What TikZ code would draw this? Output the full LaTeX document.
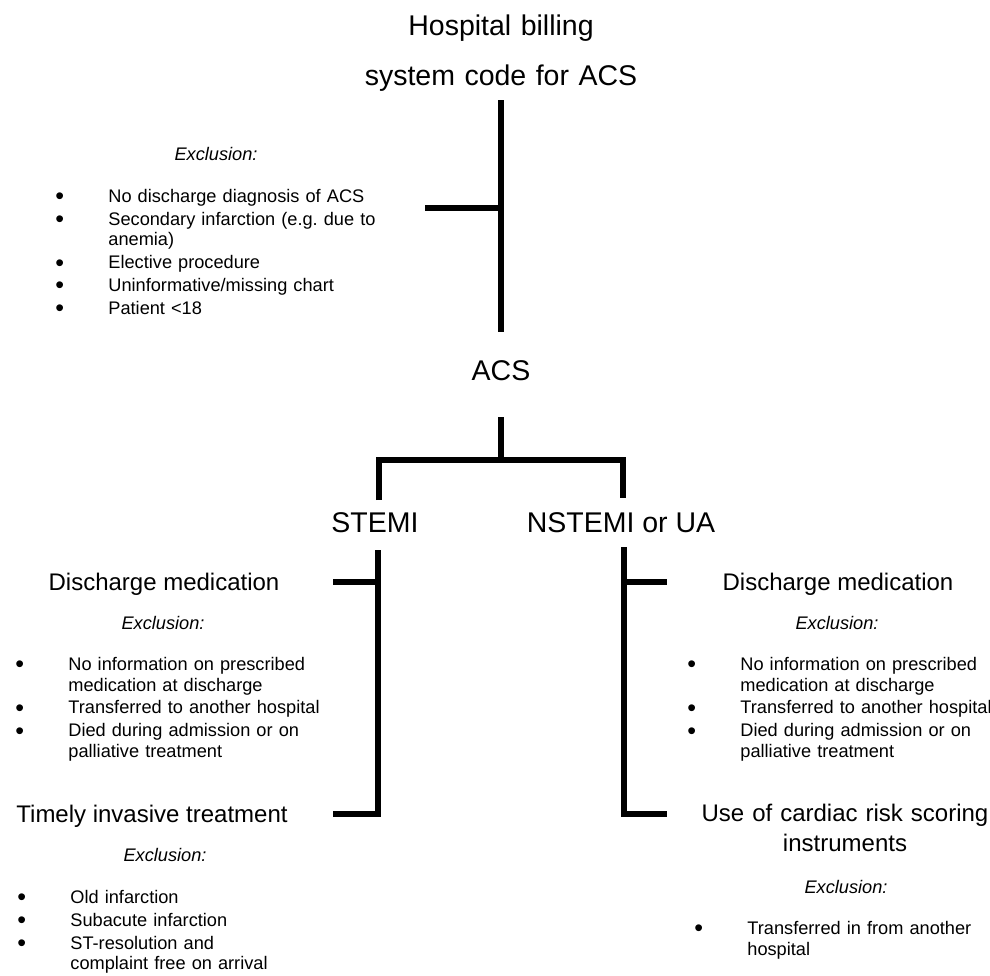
\documentclass[tikz,border=0pt]{standalone}
\usepackage{fontspec}
\setmainfont{Liberation Sans}
\frenchspacing
\newcommand{\bigbul}{\smash{\raisebox{-1.1pt}{\fontsize{12.5}{10}\selectfont\textbullet}}}
\newenvironment{exitems}{\begin{list}{\bigbul}{\setlength{\leftmargin}{26.5pt}\setlength{\labelsep}{0pt}\setlength{\labelwidth}{26.5pt}\setlength{\topsep}{0pt}\setlength{\partopsep}{0pt}\setlength{\parsep}{0pt}\setlength{\itemsep}{1.2pt}\renewcommand{\makelabel}[1]{##1\hfil}}}{\end{list}}
\tikzset{
  conn/.style={line width=3pt},
  big/.style={font=\fontsize{14.25}{25}\selectfont, anchor=base, inner sep=0pt},
  mid/.style={font=\fontsize{12}{15}\selectfont, anchor=base, inner sep=0pt},
  excl/.style={font=\fontsize{9.1}{10.25}\selectfont\itshape, anchor=base, inner sep=0pt},
  exlist/.style={font=\fontsize{9.1}{10.25}\selectfont, anchor=base west, text width=200pt, align=left, inner sep=0pt}
}
\begin{document}
\begin{tikzpicture}[x=0.5pt,y=-0.5pt]
\useasboundingbox (0,0) rectangle (990,975);

\node[big, text width=200pt, align=center] (billing) at (501,35) {Hospital billing\\system code for ACS};
\node[excl] (ex0) at (216,160) {Exclusion:};
\node[exlist] (list0) at (55,182) {\begin{exitems}
  \item No discharge diagnosis of ACS
  \item Secondary infarction (e.g. due to\newline anemia)
  \item Elective procedure
  \item Uninformative/missing chart
  \item Patient <18
\end{exitems}};
\node[big] (acs) at (501,380) {ACS};
\node[big] (stemi) at (375,532) {STEMI};
\node[big] (nstemi) at (621,532) {NSTEMI or UA};

\node[mid] (dml) at (164,590) {Discharge medication};
\node[excl] (ex1) at (163,629) {Exclusion:};
\node[exlist] (list1) at (15,650) {\begin{exitems}
  \item No information on prescribed\newline medication at discharge
  \item Transferred to another hospital
  \item Died during admission or on\newline palliative treatment
\end{exitems}};
\node[mid] (dmr) at (838,590) {Discharge medication};
\node[excl] (ex2) at (837,629) {Exclusion:};
\node[exlist] (list2) at (687,650) {\begin{exitems}
  \item No information on prescribed\newline medication at discharge
  \item Transferred to another hospital
  \item Died during admission or on\newline palliative treatment
\end{exitems}};

\node[mid] (timely) at (152,822) {Timely invasive treatment};
\node[excl] (ex3) at (165,861) {Exclusion:};
\node[exlist] (list3) at (17,883) {\begin{exitems}
  \item Old infarction
  \item Subacute infarction
  \item ST-resolution and\newline complaint free on arrival
\end{exitems}};
\node[mid, text width=160pt, align=center] (score) at (845,821) {Use of cardiac risk scoring\\instruments};
\node[excl] (ex4) at (846,893) {Exclusion:};
\node[exlist] (list4) at (694,914) {\begin{exitems}
  \item Transferred in from another\newline hospital
\end{exitems}};

\coordinate (t0) at (501,100);
\coordinate (t1) at (501,332);
\coordinate (t2) at (501,208);
\coordinate (t3) at (425,208);
\draw[conn] (t0) -- (t1);
\draw[conn] (t3) -- (t2);

\coordinate (a0) at (501,417);
\coordinate (a1) at (501,460);
\coordinate (al) at (379,460);
\coordinate (ar) at (623,460);
\coordinate (al1) at (379,500);
\coordinate (ar1) at (623,498);
\draw[conn] (a0) -- (a1);
\draw[conn] (al1) -- (al) -- (ar) -- (ar1);

\coordinate (s0) at (378,550);
\coordinate (s1) at (378,814);
\coordinate (s2) at (378,582);
\coordinate (s3) at (333,582);
\coordinate (s4) at (333,814);
\draw[conn] (s0) -- (s1) -- (s4);
\draw[conn] (s3) -- (s2);

\coordinate (n0) at (624,547);
\coordinate (n1) at (624,814);
\coordinate (n2) at (624,582);
\coordinate (n3) at (667,582);
\coordinate (n4) at (667,814);
\draw[conn] (n0) -- (n1) -- (n4);
\draw[conn] (n2) -- (n3);
\end{tikzpicture}
\end{document}
